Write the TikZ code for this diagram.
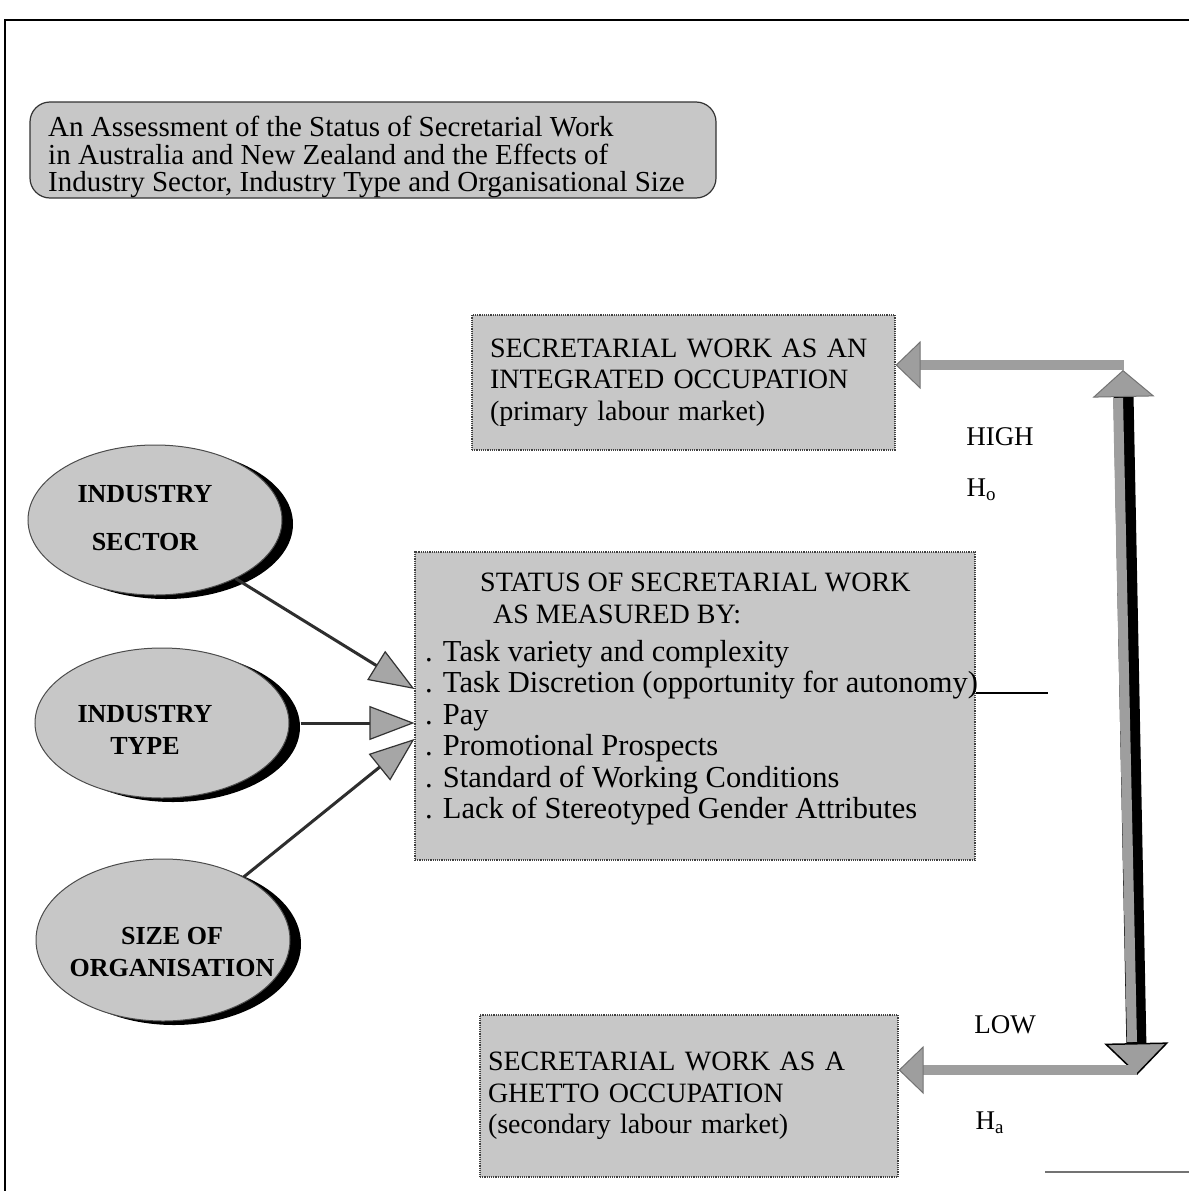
\documentclass[tikz,border=0pt]{standalone}
\usepackage{fontspec}
\setmainfont{Liberation Serif}
\usetikzlibrary{shapes.geometric,arrows.meta,calc,shadows}
\definecolor{halftone}{gray}{0.78}
\definecolor{arrowgray}{gray}{0.62}
\newcommand\bulsz{\fontsize{30.5}{31.4}\selectfont}
\begin{document}
\begin{tikzpicture}[x=1pt,y=-1pt,
  sqbox/.style={rectangle, fill=halftone, draw=black!75, densely dotted, line width=1.2pt,
    inner ysep=0pt, align=left, font=\fontsize{28}{31.5}\selectfont},
  titlebox/.style={rectangle, rounded corners=20pt, fill=halftone, draw=black!80, line width=1.2pt,
    inner sep=0pt, minimum width=686, minimum height=96},
  titletext/.style={align=left, inner sep=0pt, font=\fontsize{29}{27.5}\selectfont},
  oval/.style={ellipse, fill=halftone, draw=black!70, line width=1pt, inner sep=0pt,
    minimum width=254, minimum height=150,
    drop shadow={shadow xshift=11pt, shadow yshift=-4pt, fill=black, opacity=1}},
  ovaltext/.style={align=center, font=\bfseries\fontsize{26}{32}\selectfont},
  lbl/.style={font=\fontsize{27}{30}\selectfont},
  thinarrow/.style={line width=3pt, black!82,
    -{Triangle[length=45pt,width=34pt,fill=black!35,color=black!80,line width=1.2pt]}},
  bigh/.style={line width=10pt, arrowgray,
    -{Triangle[length=25pt,width=48pt,fill=arrowgray,color=black!55,line width=1pt]}}
]
\useasboundingbox (0,0) rectangle (1189,1191);
\fill[white] (0,0) rectangle (1189,1191);

% frame
\draw[line width=2pt] (1189,20) -- (5,20) -- (5,1191);
\draw[line width=1.5pt, black!55] (1045,1172) -- (1189,1172);

% title
\node[titlebox] (title) at (373,150) {};
\node[titletext, anchor=west] (titleT) at (48,157)
  {An Assessment of the Status of Secretarial Work\\
   in Australia and New Zealand and the Effects of\\
   Industry Sector, Industry Type and Organisational Size};

% outcome boxes
\node[sqbox, text width=387, inner xsep=18pt, minimum height=135] (integ) at (683.5,382.5)
  {SECRETARIAL WORK AS AN\\INTEGRATED OCCUPATION\\(primary labour market)};
\node[sqbox, text width=402, inner xsep=8pt, minimum height=162] (ghetto) at (689,1096)
  {SECRETARIAL WORK AS A\\GHETTO OCCUPATION\\(secondary labour market)};

% status box
\node[sqbox, minimum width=560, minimum height=308, inner sep=0pt] (status) at (695,706) {};
\node[align=left, inner sep=0pt, anchor=north west, font=\fontsize{28}{31.4}\selectfont]
  (statusT) at (425,573)
  {\hspace*{55pt}STATUS OF SECRETARIAL WORK\\
   \hspace*{68pt}AS MEASURED BY:\\[7pt]
   \bulsz . Task variety and complexity\\
   \bulsz . Task Discretion (opportunity for autonomy)\\
   \bulsz . Pay\\
   \bulsz . Promotional Prospects\\
   \bulsz . Standard of Working Conditions\\
   \bulsz . Lack of Stereotyped Gender Attributes};

% ovals
\node[oval] (sector) at (155,520) {};
\node[ovaltext] (sectorT) at (145,518) {INDUSTRY\\[16pt]SECTOR};
\node[oval] (type) at (162,723) {};
\node[ovaltext] (typeT) at (145,730) {INDUSTRY\\TYPE};
\node[oval, minimum height=162] (size) at (163,940) {};
\node[ovaltext] (sizeT) at (172,952) {SIZE OF\\ORGANISATION};

% influence arrows
\draw[thinarrow] (sector.-36) -- ($(status.west)+(0,-17)$);
\draw[thinarrow] ($(type.east)+(11,0)$) -- (type.east -| status.west);
\draw[thinarrow] (size.38) -- ($(status.west)+(0,33)$);

% line from status box
\coordinate (sl) at (1048,693);
\draw[line width=1.2pt] (status.east |- sl) -- (sl);

% vertical double arrow
\coordinate (vT) at (1123,370);
\coordinate (vB) at (1137,1075);
\draw[line width=20pt, black,
  {Triangle[length=27pt,width=62pt,fill=arrowgray,color=black!55,line width=1pt]}-{Triangle[length=32pt,width=64pt,fill=arrowgray,color=black,line width=1.5pt]}]
  (vT) -- (vB);
\draw[line width=10pt, arrowgray] ($(vT)+(-5,28)$) -- ($(vB)+(-5,-33)$);

% horizontal arrows
\coordinate (hA) at (1124,365);
\coordinate (hB) at (1137,1070);
\draw[bigh] (hA) -- (integ.east |- hA);
\draw[bigh] (hB) -- (ghetto.east |- hB);

% labels
\node[lbl] (high) at (1000,437) {HIGH};
\node[lbl, anchor=west] (ho) at (963,490) {H\textsubscript{o}};
\node[lbl] (low) at (1005,1025) {LOW};
\node[lbl, anchor=west] (ha) at (972,1123) {H\textsubscript{a}};
\end{tikzpicture}
\end{document}
